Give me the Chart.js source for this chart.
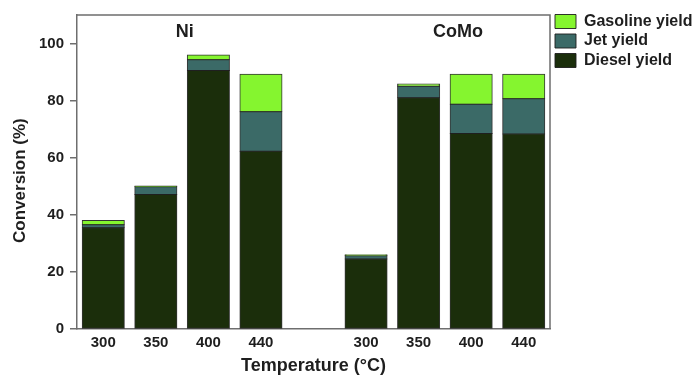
<!DOCTYPE html>
<html>
<head>
<meta charset="utf-8">
<script src="https://cdn.jsdelivr.net/npm/chart.js@4.4.0/dist/chart.umd.min.js"></script>
<style>
  html, body { margin: 0; padding: 0; background: #fff; }
</style>
</head>
<body>
<canvas id="myChart" width="695" height="377"></canvas>
<script>
    //-------------------------------------------------- data
    const temps = ["300", "350", "400", "440", "", "300", "350", "400", "440"];
    const dieselYield = [35.5, 47.1, 90.6, 62.3, null, 24.5, 81.0, 68.5, 68.3];
    const jetYield = [1.0, 2.7, 3.7, 13.8, null, 1.2, 4.0, 10.2, 12.4];
    const gasolineYield = [1.5, 0.3, 1.7, 13.1, null, 0.3, 0.8, 10.5, 8.5];
    const yTicks = [0, 20, 40, 60, 80, 100];
    const groupNames = ["Ni", "CoMo"];
    //^^^^^^^^^^^^^^^^^^^^^^^^^^^^^^^^^^^^^^^^^^^^^^^^^^ data

    const FONT = "'Liberation Sans', Arial, sans-serif";
    const AXIS = '#6e6e6e';
    const TXT = '#1e1e1e';

    // legend box: fixed width + moved up a bit
    const legendFix = {
        id: 'legendFix',
        beforeInit(chart) {
            const fit = chart.legend.fit;
            chart.legend.fit = function () {
                fit.bind(chart.legend)();
                this.width = 145;
            };
        },
        afterLayout(chart) {
            chart.legend.top = chart.chartArea.top - 5;
            chart.legend.left = chart.chartArea.right + 1.5;
        }
    };

    // top + right frame, group names, y title
    const extras = {
        id: 'extras',
        afterDatasetsDraw(chart) {
            const ctx = chart.ctx;
            const a = chart.chartArea;
            const x = chart.scales.x, y = chart.scales.y;
            ctx.save();
            ctx.strokeStyle = AXIS;
            ctx.lineWidth = 1.5;
            ctx.beginPath();
            ctx.moveTo(a.left, a.top);
            ctx.lineTo(a.right, a.top);
            ctx.lineTo(a.right, a.bottom);
            ctx.stroke();

            ctx.fillStyle = TXT;
            ctx.font = 'bold 18px ' + FONT;
            ctx.textAlign = 'center';
            ctx.textBaseline = 'middle';
            ctx.fillText(groupNames[0], x.getPixelForValue(1.55), y.getPixelForValue(104));
            ctx.fillText(groupNames[1], x.getPixelForValue(6.75), y.getPixelForValue(104));

            ctx.font = 'bold 17px ' + FONT;
            ctx.translate(20, y.getPixelForValue(52));
            ctx.rotate(-Math.PI / 2);
            ctx.fillText('Conversion (%)', 0, 0);
            ctx.restore();
        }
    };

    const mk = (label, data, color) => ({
        label: label,
        data: data,
        backgroundColor: color,
        borderColor: 'rgba(30,30,30,0.9)',
        borderWidth: 1,
        borderSkipped: false,
        inflateAmount: 0.5,
        categoryPercentage: 1.0,
        barPercentage: 0.8
    });

    new Chart(document.getElementById('myChart'), {
        type: 'bar',
        data: {
            labels: temps,
            datasets: [
                mk('Diesel yield', dieselYield, '#1b2e0b'),
                mk('Jet yield', jetYield, '#3b6a67'),
                mk('Gasoline yield', gasolineYield, '#85f52f')
            ]
        },
        options: {
            responsive: false,
            animation: false,
            layout: { padding: { left: 0, right: 0, top: 13, bottom: 0 } },
            plugins: {
                tooltip: { enabled: false },
                legend: {
                    position: 'right',
                    align: 'start',
                    reverse: true,
                    labels: {
                        boxWidth: 21,
                        boxHeight: 14,
                        padding: 3.5,
                        color: TXT,
                        font: { family: FONT, size: 16, weight: 'bold' }
                    }
                }
            },
            scales: {
                x: {
                    stacked: true,
                    afterFit(s) { s.height = 48; },
                    border: { color: AXIS, width: 1.5 },
                    grid: { display: false, drawTicks: false },
                    ticks: {
                        padding: 5,
                        color: TXT,
                        font: { family: FONT, size: 15, weight: 'bold' }
                    },
                    title: {
                        display: true,
                        text: 'Temperature (°C)',
                        color: TXT,
                        padding: 0,
                        font: { family: FONT, size: 18, weight: 'bold' }
                    }
                },
                y: {
                    stacked: true,
                    min: 0,
                    max: 110,
                    afterFit(s) { s.width = 77; },
                    afterBuildTicks(s) { s.ticks = yTicks.map(v => ({ value: v })); },
                    border: { color: AXIS, width: 1.5 },
                    grid: { drawOnChartArea: false, drawTicks: true, tickLength: 7, color: AXIS, lineWidth: 1.5 },
                    ticks: {
                        padding: 6,
                        color: TXT,
                        font: { family: FONT, size: 15, weight: 'bold' }
                    }
                }
            }
        },
        plugins: [legendFix, extras]
    });
</script>
</body>
</html>
